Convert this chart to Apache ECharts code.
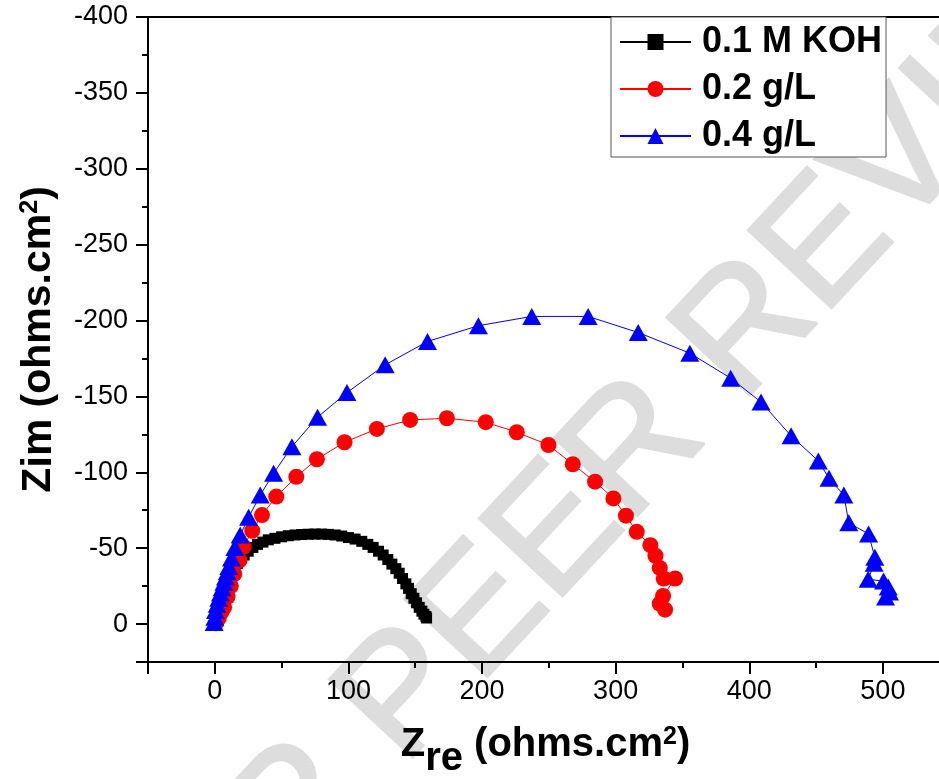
<!DOCTYPE html>
<html>
<head>
<meta charset="utf-8">
<script src="https://cdn.jsdelivr.net/npm/echarts@6/dist/echarts.min.js"></script>
<style>
  html, body { margin: 0; padding: 0; background: #ffffff; }
  #chart { width: 939px; height: 779px; }
</style>
</head>
<body>
<div id="chart"></div>
<script>
// Nyquist data: [Zre, Zim] in ohms.cm2
const seriesNames = ['0.1 M KOH', '0.2 g/L', '0.4 g/L'];

const kohPoints = [
  [0.5, -0.5], [1, -2.5], [2, -5], [3, -8], [4, -11], [5, -14], [6, -17], [7, -20],
  [8.5, -23.5], [10, -27], [11.5, -30.5], [13, -33.5], [15, -37], [17, -40], [19.5, -43],
  [22, -45.5], [25, -48], [28.5, -50.5], [32, -52.5], [36, -54], [40, -55.5], [45, -56.5],
  [50, -57.5], [55, -58.2], [60, -58.7], [65, -59], [70, -59.2], [75, -59.3], [80, -59.3],
  [85, -59.1], [90, -58.7], [95, -58], [100, -57], [105, -56], [110, -54.5], [114.5, -52.5],
  [118.5, -50.5], [122.5, -48], [126, -45.5], [129.5, -42.5], [132.5, -39.5], [135.5, -36.5],
  [138, -33.5], [140.5, -30], [143, -26.5], [145, -23.5], [147, -20], [149, -17], [151, -14],
  [153, -11], [155, -8.5], [156.5, -6.5], [158, -5], [158.5, -4]
];

const g02Points = [
  [1, -0.5], [3, -4], [5, -8], [7, -11], [9.5, -18], [12, -25], [14.5, -33], [18.5, -42],
  [21.5, -51], [28, -61.5], [35.3, -71.8], [46, -84], [61, -97], [76.4, -108.6], [97.1, -119.8],
  [121.3, -128.6], [146.2, -134.5], [173.7, -135.6], [202.8, -133], [226, -126.4], [249.7, -118],
  [267.9, -105.3], [284.6, -93.8], [298.3, -82.8], [307.7, -71.4], [315.8, -60.8], [326, -52],
  [329.8, -45], [333, -37], [336, -30], [344.5, -30], [335.5, -18.5], [333, -13.5], [337, -9.5]
];

const g04Points = [
  [-0.5, -1], [0, -4.5], [0.5, -9], [1.8, -13], [3, -17], [4.2, -20.5], [5.5, -24], [6.8, -27.5],
  [8, -31], [9.3, -34.5], [10.5, -38], [12.5, -43.5], [15, -50.5], [19, -58.6], [25.3, -70.3],
  [34, -85], [44, -99.3], [57.7, -116.9], [76.9, -136.3], [98.9, -152.5], [127.5, -170.8],
  [159.2, -186.2], [197.3, -196.6], [237.2, -202.7], [279.4, -202.7], [316.9, -192.1],
  [355.5, -178.5], [386.1, -162], [408.8, -146.3], [431.3, -124], [451.7, -107.5], [459.7, -96],
  [470.8, -85], [474.5, -66.7], [489.3, -59.3], [494, -44], [493.5, -40], [489, -29.5],
  [500.5, -28.3], [504, -24.5], [505, -21.2], [502, -17.9]
];

const xTickLabels = [0, 100, 200, 300, 400, 500];
const yTickLabels = [-400, -350, -300, -250, -200, -150, -100, -50, 0];

const seriesColors = ['#000000', '#ff0000', '#0000ff'];
const seriesSymbols = ['rect', 'circle', 'triangle'];
const symbolSizes = [11, 16, [19, 17]];
const seriesData = [kohPoints, g02Points, g04Points];

const sansFont = "'Liberation Sans', Arial, Helvetica, sans-serif";

const chart = echarts.init(document.getElementById('chart'), null, { renderer: 'canvas' });

const option = {
  animation: false,
  backgroundColor: '#ffffff',
  graphic: [{
    type: 'text',
    z: -10,
    silent: true,
    x: 545,
    y: 548,
    rotation: 47 * Math.PI / 180,
    style: {
      text: 'UNDER PEER REVIEW',
      fontSize: 165,
      fontFamily: sansFont,
      fill: '#dddddd',
      stroke: '#dddddd',
      lineWidth: 3,
      lineJoin: 'round',
      align: 'center',
      verticalAlign: 'middle'
    }
  }],
  grid: {
    left: 148, top: 17, right: -4, bottom: 117,
    outerBoundsMode: 'none',
    containLabel: false,
    show: true, borderColor: '#000', borderWidth: 2, backgroundColor: 'transparent'
  },
  legend: {
    orient: 'vertical',
    left: 611, top: 17,
    itemWidth: 71, itemHeight: 20, itemGap: 11,
    padding: [7, 4, 3, 8],
    borderColor: '#555', borderWidth: 1,
    backgroundColor: '#ffffff',
    textStyle: { fontSize: 36, fontWeight: 'bold', fontFamily: sansFont, color: '#000', padding: [0, 0, 0, 6] },
    data: seriesNames
  },
  xAxis: {
    type: 'value',
    min: -50, max: 545,
    name: '{z|Z}{sub|re}{n| (ohms.cm}{sup|2}{n|)}',
    nameLocation: 'middle',
    nameGap: 63,
    nameTextStyle: {
      rich: {
        z: { fontSize: 40, fontWeight: 'bold', fontFamily: sansFont, color: '#000', lineHeight: 42, verticalAlign: 'top' },
        sub: { fontSize: 40, fontWeight: 'bold', fontFamily: sansFont, color: '#000', lineHeight: 42, padding: [14, 0, 0, 0], verticalAlign: 'top' },
        n: { fontSize: 40, fontWeight: 'bold', fontFamily: sansFont, color: '#000', lineHeight: 42, verticalAlign: 'top' },
        sup: { fontSize: 25, fontWeight: 'bold', fontFamily: sansFont, color: '#000', lineHeight: 26, verticalAlign: 'top' }
      }
    },
    axisLine: { show: true, onZero: false, lineStyle: { color: '#000', width: 2 } },
    axisTick: { show: true, inside: false, length: 12, lineStyle: { color: '#000', width: 2 } },
    minorTick: { show: true, splitNumber: 2, length: 6, lineStyle: { color: '#000', width: 2 } },
    splitLine: { show: false },
    axisLabel: {
      fontSize: 27, fontFamily: sansFont, color: '#000', margin: 16,
      formatter: v => (xTickLabels.indexOf(v) >= 0 ? String(v) : '')
    }
  },
  yAxis: {
    type: 'value',
    inverse: true,
    min: -400, max: 25, interval: 50,
    name: '{z|Z}{s|im}{n| (ohms.cm}{sup|2}{n|)}',
    nameLocation: 'middle',
    nameGap: 86,
    nameTextStyle: {
      rich: {
        z: { fontSize: 41, fontWeight: 'bold', fontFamily: sansFont, color: '#000', lineHeight: 44, verticalAlign: 'top' },
        s: { fontSize: 42, fontWeight: 'bold', fontFamily: sansFont, color: '#000', lineHeight: 44, verticalAlign: 'top' },
        n: { fontSize: 41, fontWeight: 'bold', fontFamily: sansFont, color: '#000', lineHeight: 44, verticalAlign: 'top' },
        sup: { fontSize: 25, fontWeight: 'bold', fontFamily: sansFont, color: '#000', lineHeight: 26, verticalAlign: 'top' }
      }
    },
    axisLine: { show: true, onZero: false, lineStyle: { color: '#000', width: 2 } },
    axisTick: { show: true, inside: false, length: 12, lineStyle: { color: '#000', width: 2 } },
    minorTick: { show: true, splitNumber: 2, length: 6, lineStyle: { color: '#000', width: 2 } },
    splitLine: { show: false },
    axisLabel: {
      fontSize: 27, fontFamily: sansFont, color: '#000', margin: 20,
      formatter: v => (yTickLabels.indexOf(v) >= 0 ? String(v) : '')
    }
  },
  series: seriesNames.map((name, i) => ({
    name: name,
    type: 'line',
    data: seriesData[i],
    symbol: seriesSymbols[i],
    symbolSize: symbolSizes[i],
    showSymbol: true,
    itemStyle: { color: seriesColors[i] },
    lineStyle: { color: seriesColors[i], width: 1 },
    emphasis: { disabled: true }
  }))
};

chart.setOption(option);
</script>
</body>
</html>
